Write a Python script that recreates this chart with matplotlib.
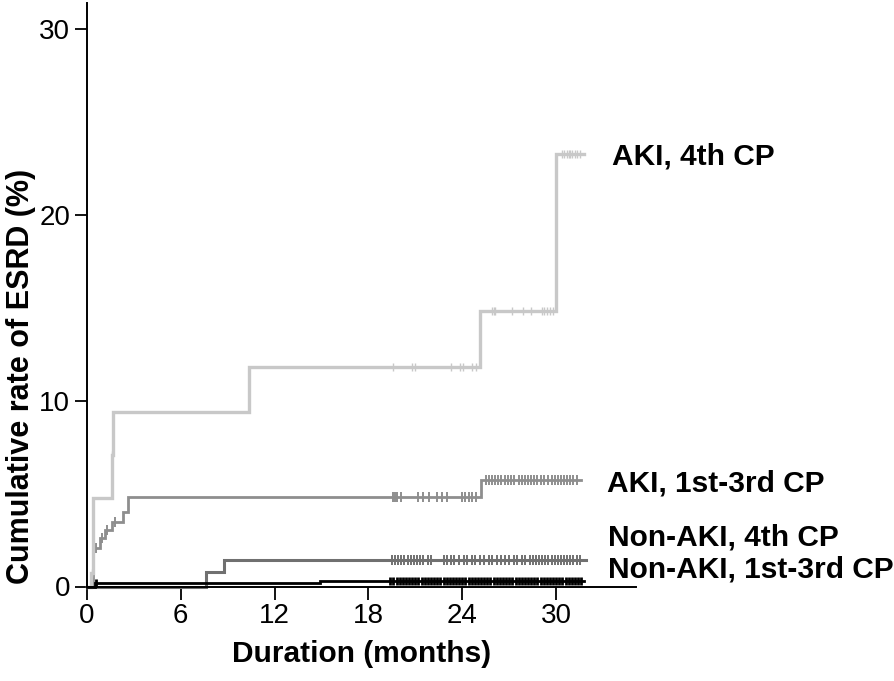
import numpy as np
import matplotlib
matplotlib.use("Agg")
import matplotlib.pyplot as plt

plt.rcParams['font.family'] = ['Liberation Sans', 'DejaVu Sans']

# step curves: time of each step (months) and cumulative rate after it (%)
aki4_t = [0, 0.30, 0.42, 1.60, 1.65, 10.4, 25.1, 30.0]
aki4_y = [0, 0.7, 4.75, 7.1, 9.4, 11.8, 14.85, 23.3]
aki4_end = 31.8
aki4_cens = [0.35, 1.62, 19.6, 20.8, 21.0, 23.3, 23.85, 24.05, 24.6, 24.9,
             25.9, 26.0, 26.1, 27.2, 27.9, 28.4, 29.1, 29.2, 29.4, 29.6, 29.8,
             30.35, 30.5, 30.7, 30.8, 30.9, 31.0, 31.2, 31.3, 31.5]

aki13_t = [0, 0.38, 0.85, 1.17, 1.6, 2.34, 2.66, 25.2]
aki13_y = [0, 2.07, 2.6, 3.04, 3.49, 4.03, 4.83, 5.75]
aki13_end = 31.6
aki13_cens = [0.5, 0.6, 1.0, 1.3, 1.8,
              19.55, 19.7, 19.85, 20.1, 21.2, 21.5, 21.9, 22.4, 22.7, 23.0,
              24.0, 24.2, 24.4, 24.6, 24.9,
              25.5, 25.7, 25.9, 26.1, 26.3, 26.5, 26.7, 26.9, 27.1, 27.3, 27.6,
              27.8, 28.0, 28.2, 28.4, 28.6, 28.8, 29.0, 29.2, 29.5, 29.7, 29.9,
              30.1, 30.3, 30.5, 30.7, 30.9, 31.1, 31.3]

non4_t = [0, 7.65, 8.77]
non4_y = [0, 0.76, 1.43]
non4_end = 31.9
non4_cens = [19.5, 19.7, 19.9, 20.1, 20.3, 20.5, 20.7, 20.9, 21.1, 21.3, 21.5,
             21.8, 22.0, 22.8, 23.0, 23.3, 23.5, 23.8, 24.1, 24.3, 24.6, 24.8,
             25.1, 25.4, 25.7, 25.9, 26.2, 26.5, 26.7, 27.0, 27.3, 27.5, 27.8,
             28.0, 28.3, 28.5, 28.7, 28.9, 29.1, 29.3, 29.5, 29.7, 29.9, 30.1,
             30.3, 30.5, 30.7, 30.9, 31.1, 31.3, 31.5]

non13_t = [0, 0.5, 14.9]
non13_y = [0, 0.17, 0.3]
non13_end = 31.8
non13_cens = [0.6, 19.4, 19.6, 19.8, 20.0, 20.2, 20.4, 20.6, 20.8, 21.0, 21.2,
              21.4, 21.6, 21.8, 22.0, 22.2, 22.4, 22.6, 22.8, 23.0, 23.2, 23.4,
              23.6, 23.8, 24.0, 24.2, 24.4, 24.6, 24.8, 25.0, 25.2, 25.4, 25.6,
              25.8, 26.0, 26.2, 26.4, 26.6, 26.8, 27.0, 27.2, 27.4, 27.6, 27.8,
              28.0, 28.2, 28.4, 28.6, 28.8, 29.0, 29.2, 29.4, 29.6, 29.8, 30.0,
              30.2, 30.4, 30.6, 30.8, 31.0, 31.2, 31.4, 31.6]

groups = ["AKI, 4th CP", "AKI, 1st-3rd CP", "Non-AKI, 4th CP", "Non-AKI, 1st-3rd CP"]
xticks = [0, 6, 12, 18, 24, 30]
yticks = [0, 10, 20, 30]

fig = plt.figure(figsize=(8.94, 6.81), dpi=100)
ax = fig.add_axes([86.7 / 894, 1 - 586.5 / 681, (636 - 86.7) / 894, (586.5 - 3) / 681])


def km(t, y, end, cens, color, lw, ms, mew):
    tt = list(t) + [end]
    yy = list(y) + [y[-1]]
    ax.step(tt, yy, where='post', color=color, lw=lw, solid_joinstyle='miter',
            clip_on=False)
    idx = np.searchsorted(t, cens, side='right') - 1
    cy = np.array(y)[idx]
    ax.plot(cens, cy, ls='none', marker='|', ms=ms, mew=mew, color=color,
            clip_on=False)


km(non4_t, non4_y, non4_end, non4_cens, '#707070', 2.2, 7, 1.4)
km(aki13_t, aki13_y, aki13_end, aki13_cens, '#8e8e8e', 2.0, 7, 1.4)
km(aki4_t, aki4_y, aki4_end, aki4_cens, '#c8c8c8', 2.4, 6, 1.0)
km(non13_t, non13_y, non13_end, non13_cens, '#000000', 2.0, 6, 2.0)

ax.set_xlim(0, (636 - 86.7) / 15.65)
ax.set_ylim(0, (586.5 - 3) / 18.58)
ax.set_xticks(xticks)
ax.set_yticks(yticks)
for s in ['top', 'right']:
    ax.spines[s].set_visible(False)
for s in ['left', 'bottom']:
    ax.spines[s].set_linewidth(1.4)
ax.tick_params(direction='out', length=9, width=1.3, labelsize=20, pad=3)

ax.set_xlabel("Duration (months)", fontsize=21.5, fontweight='bold', labelpad=8)
ax.set_ylabel("Cumulative rate of ESRD (%)", fontsize=22, fontweight='bold')
ax.yaxis.set_label_coords(-0.093, 0.36)

# group labels at the right end of each curve
ax.text(33.55, 22.69, groups[0], fontsize=21.5, fontweight='bold', va='baseline', clip_on=False)
ax.text(33.23, 5.09, groups[1], fontsize=21.5, fontweight='bold', va='baseline', clip_on=False)
ax.text(33.31, 2.23, groups[2], fontsize=21.5, fontweight='bold', va='baseline', clip_on=False)
ax.text(33.31, 0.46, groups[3], fontsize=21.5, fontweight='bold', va='baseline', clip_on=False)

fig.savefig("out.png", dpi=100)
